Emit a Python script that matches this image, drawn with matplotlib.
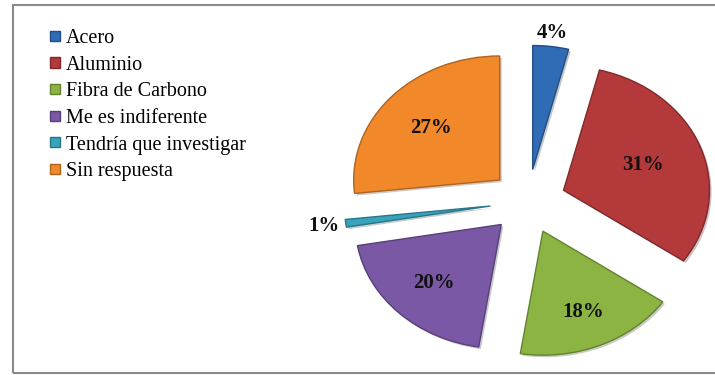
import numpy as np
import matplotlib
matplotlib.use("Agg")
import matplotlib.pyplot as plt
import matplotlib.patheffects as pe
from matplotlib.patches import Rectangle
from matplotlib.colors import to_rgb

# survey answers, percent
categorias = ["Acero", "Aluminio", "Fibra de Carbono", "Me es indiferente",
              "Tendría que investigar", "Sin respuesta"]
porcentajes = [4, 31, 18, 20, 1, 27]
etiquetas = ["4%", "31%", "18%", "20%", "1%", "27%"]

colores = ["#2F6CB5", "#B3393A", "#8BB443", "#7A58A6", "#37A4BC", "#F1892B"]
# how far from the pie centre each percentage sits
dist_etiqueta = [1.37, 0.84, 0.97, 0.92, 1.41, 0.89]
separacion = 0.26

fig = plt.figure(figsize=(7.15, 3.75), dpi=100)
ax = fig.add_axes([0, 0, 1, 1])

wedges, _ = ax.pie(porcentajes, colors=colores, startangle=90, counterclock=False,
                   explode=[separacion] * len(porcentajes),
                   wedgeprops=dict(linewidth=1.0))
for w, c in zip(wedges, colores):
    w.set_edgecolor(tuple(v * 0.72 for v in to_rgb(c)))
    w.set_path_effects([pe.SimplePatchShadow(offset=(1.5, -1.5), alpha=0.25), pe.Normal()])

ax.set_aspect("auto")
ax.set_xlim(-3.616, 1.281)
ax.set_ylim(-1.399, 1.625)
ax.axis("off")

# percentage labels along each slice's middle angle
total = sum(porcentajes)
ang = 90.0
for p, txt, r in zip(porcentajes, etiquetas, dist_etiqueta):
    mid = np.radians(ang - p / total * 180.0)
    ang -= p / total * 360.0
    ax.text(r * np.cos(mid), r * np.sin(mid), txt, ha="center", va="center",
            fontsize=15, fontweight="bold", family="Liberation Serif", color="#111111")

leg = fig.legend(wedges, categorias, loc="upper left", bbox_to_anchor=(50 / 715, 1 - 29 / 375),
                 frameon=False, prop=dict(family="Liberation Serif", size=14.5),
                 handlelength=0.5, handleheight=0.4, handletextpad=0.3, labelspacing=0.38,
                 borderaxespad=0, borderpad=0)
for h in leg.legend_handles:
    h.set_path_effects([])

# outer chart border
fig.patches.append(Rectangle((12.5 / 715, 2 / 375), 1.0, 368 / 375, transform=fig.transFigure,
                             fill=False, edgecolor="#8a8a8a", linewidth=1.5))

fig.savefig("out.png", dpi=100)
